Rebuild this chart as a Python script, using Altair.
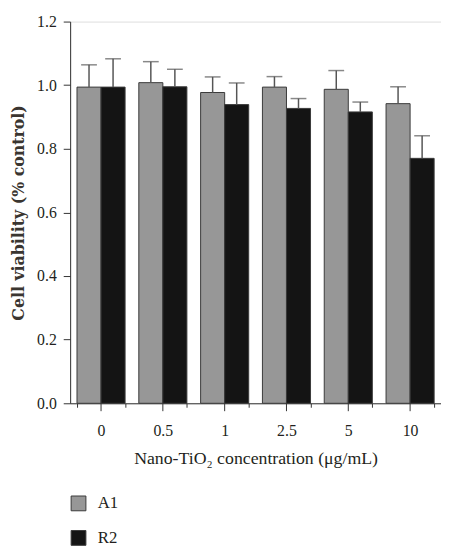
import altair as alt
import pandas as pd

concs = ["0", "0.5", "1", "2.5", "5", "10"]
groups = ["A1", "R2"]
a1_mean = [0.994, 1.008, 0.977, 0.994, 0.987, 0.942]
a1_upper = [1.064, 1.074, 1.026, 1.027, 1.046, 0.995]
r2_mean = [0.994, 0.995, 0.939, 0.927, 0.916, 0.770]
r2_upper = [1.083, 1.050, 1.007, 0.958, 0.947, 0.841]

rows = []
for i, c in enumerate(concs):
    rows.append({"conc": c, "group": "A1", "value": a1_mean[i], "upper": a1_upper[i]})
    rows.append({"conc": c, "group": "R2", "value": r2_mean[i], "upper": r2_upper[i]})
df = pd.DataFrame(rows)
ticks_df = pd.DataFrame({"conc": concs})

FONT = "Liberation Serif"
TXT = "#231f20"
W, H = 376, 387

xscale = alt.Scale(paddingInner=0.222, paddingOuter=0.111)
xenc = alt.X(
    "conc:N", sort=concs, scale=xscale,
    title="Nano-TiO\u2082 concentration (\u03bcg/mL)",
    axis=alt.Axis(labelAngle=0, tickBand="extent", tickSize=4, labelPadding=16,
                  titlePadding=11, domainColor="#333", tickColor="#333",
                  labelFont=FONT, labelFontSize=16, labelColor=TXT,
                  titleFont=FONT, titleFontSize=18, titleFontWeight="normal", titleColor=TXT),
)
yenc = alt.Y(
    "value:Q", scale=alt.Scale(domain=[0, 1.2], nice=False),
    title="Cell viability (% control)",
    axis=alt.Axis(values=[round(v * 0.1, 1) for v in range(13)],
                  labelExpr="round(datum.value*10)%2==1 ? '' : format(datum.value, '.1f')",
                  tickSize={"condition": {"test": "round(datum.value*10)%2==1", "value": 4}, "value": 7},
                  labelPadding=7, titlePadding=10, grid=False,
                  domainColor="#333", tickColor="#333",
                  labelFont=FONT, labelFontSize=16, labelColor=TXT,
                  titleFont="DejaVu Serif", titleFontSize=16, titleFontWeight="bold",
                  titleColor="#3a3530"),
)
xoff = alt.XOffset("group:N", sort=groups, scale=alt.Scale(paddingInner=0, paddingOuter=0))

bars = alt.Chart(df).mark_bar(stroke="#3a3a3a", strokeWidth=1).encode(
    x=xenc, y=yenc, xOffset=xoff,
    fill=alt.Fill("group:N", sort=groups,
                  scale=alt.Scale(domain=groups, range=["#979797", "#141414"]),
                  legend=alt.Legend(title=None, orient="none", legendX=0, legendY=480,
                                    direction="vertical", symbolType="square", symbolSize=225,
                                    symbolStrokeColor="#3a3a3a", symbolStrokeWidth=1,
                                    labelFont=FONT, labelFontSize=17, labelColor=TXT,
                                    labelOffset=11, rowPadding=16)),
)
err = alt.Chart(df).mark_rule(color="#555", strokeWidth=1.5).encode(
    x=alt.X("conc:N", sort=concs), xOffset=xoff,
    y="value:Q", y2="upper:Q",
)
caps = alt.Chart(df).mark_tick(color="#555", thickness=1.5, size=16).encode(
    x=alt.X("conc:N", sort=concs), xOffset=xoff,
    y="upper:Q",
)
centers = alt.Chart(ticks_df).mark_rule(color="#333", strokeWidth=1).encode(
    x=alt.X("conc:N", sort=concs), y=alt.value(H), y2=alt.value(H + 8),
)

chart = alt.layer(bars, err, caps, centers).properties(
    width=W, height=H, padding={"left": 3, "top": 2, "right": 0, "bottom": 0}
).configure_view(stroke=None).configure(background="white")

chart.save("out.html", embed_options={"renderer": "svg", "actions": False})
